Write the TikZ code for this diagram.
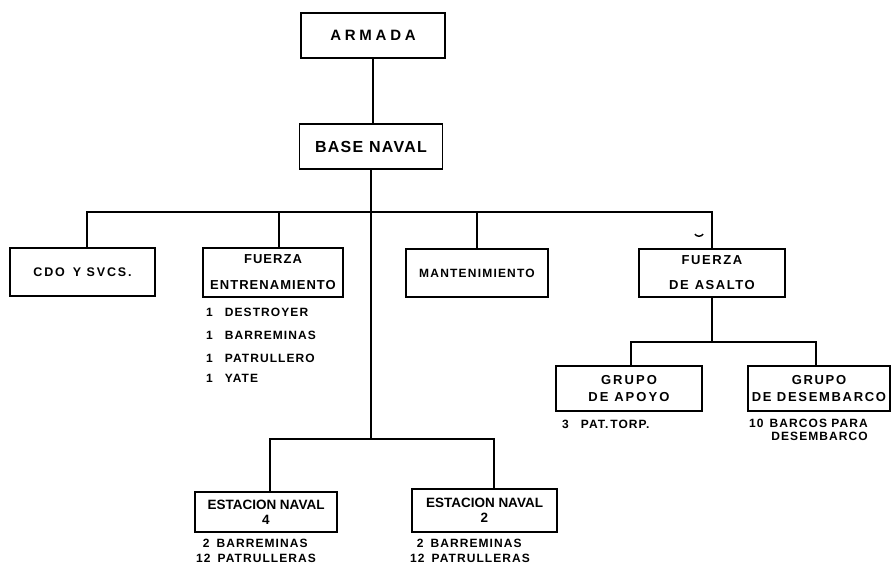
\documentclass[tikz,border=0pt]{standalone}
\usepackage{fontspec}
\setmainfont{Liberation Sans}
\newcommand\fsz[3]{\fontsize{#1}{#2}\selectfont\addfontfeature{LetterSpace=#3}}
\begin{document}
\begin{tikzpicture}[x=1pt,y=-1pt,
  box/.style={draw, line width=1.6pt, inner sep=0pt, align=center},
  link/.style={line width=2.6pt, line join=miter},
  item/.style={inner sep=0pt, anchor=base west, font=\bfseries\fsz{12}{14}{9}},
  itemr/.style={inner sep=0pt, anchor=base east, font=\bfseries\fsz{12}{14}{9}}]
\useasboundingbox (0,0) rectangle (892,566);
% boxes
\node[box, minimum width=144, minimum height=45, font=\bfseries\fsz{15}{18}{25}] (armada) at (373,35.5) {ARMADA};
\node[box, minimum width=143, minimum height=45, font=\bfseries\fsz{16}{18}{8}] (base) at (371,146.5) {BASE NAVAL};
\node[box, minimum width=145, minimum height=48, font=\bfseries\fsz{12.5}{15}{15}] (cdo) at (82.5,272) {CDO\hspace{8pt}Y SVCS.};
\node[box, minimum width=140, minimum height=49, font=\bfseries\fsz{13}{26}{8}] (fent) at (273,272.5) {FUERZA\\ENTRENAMIENTO};
\node[box, minimum width=142, minimum height=48, font=\bfseries\fsz{12}{14}{10}] (mant) at (477,273) {MANTENIMIENTO};
\node[box, minimum width=146, minimum height=48, font=\bfseries\fsz{13}{25}{12}] (fasa) at (712,273) {FUERZA\\DE\hspace{6pt}ASALTO};
\node[box, minimum width=146, minimum height=45, font=\bfseries\fsz{13}{17}{16}] (gapo) at (629,388.5) {GRUPO\\DE APOYO};
\node[box, minimum width=142, minimum height=45, font=\bfseries\fsz{13}{17}{13}] (gdes) at (819,388.5) {GRUPO\\DE DESEMBARCO};
\node[box, minimum width=142, minimum height=40, font=\bfseries\fsz{13.5}{15}{0}] (en4) at (266,512) {ESTACION NAVAL\\4};
\node[box, minimum width=145, minimum height=43, font=\bfseries\fsz{13.5}{15}{0}] (en2) at (484.5,510.5) {ESTACION NAVAL\\2};
% bus points
\coordinate (b1l) at (87,212);
\coordinate (b1f) at (279,212);
\coordinate (b1r) at (712,212);
\coordinate (b2l) at (631,342);
\coordinate (b2r) at (816,342);
\coordinate (b3l) at (270,439);
\coordinate (b3r) at (494,439);
% connectors
\draw[link] (armada.south) -- (armada.south |- base.north);
\draw[link] (b1l |- cdo.north) -- (b1l) -- (b1r) -- (fasa.north);
\draw[link] (b1f) -- (b1f |- fent.north);
\draw[link] (mant.north |- b1l) -- (mant.north);
\draw[link] (base.south) -- (base.south |- b3l);
\draw[link] (b3l |- en4.north) -- (b3l) -- (b3r) -- (b3r |- en2.north);
\draw[link] (fasa.south) -- (fasa.south |- b2l);
\draw[link] (b2l |- gapo.north) -- (b2l) -- (b2r) -- (b2r |- gdes.north);
% small mark
\coordinate (m1) at (695,234);
\coordinate (m2) at (703,234);
\draw[line width=1.4pt] (m1) to[bend right=70] (m2);
% lists
\node[item] (fe1) at (206,316.3) {1\hspace{12pt}DESTROYER};
\node[item] (fe2) at (206,339.3) {1\hspace{12pt}BARREMINAS};
\node[item] (fe3) at (206,362.3) {1\hspace{12pt}PATRULLERO};
\node[item] (fe4) at (206,382.3) {1\hspace{12pt}YATE};
\node[item] (ga1) at (562,428.3) {3\hspace{12pt}PAT.\,TORP.};
\node[itemr] (gd1) at (868,427.3) {10\hspace{6pt}BARCOS PARA};
\node[itemr] (gd2) at (868,440.3) {DESEMBARCO};
\node[item] (ea1) at (196,547.3) {\phantom{1}2\hspace{7pt}BARREMINAS};
\node[item] (ea2) at (196,562.3) {12\hspace{7pt}PATRULLERAS};
\node[item] (eb1) at (410,547.3) {\phantom{1}2\hspace{7pt}BARREMINAS};
\node[item] (eb2) at (410,562.3) {12\hspace{7pt}PATRULLERAS};
\end{tikzpicture}
\end{document}
